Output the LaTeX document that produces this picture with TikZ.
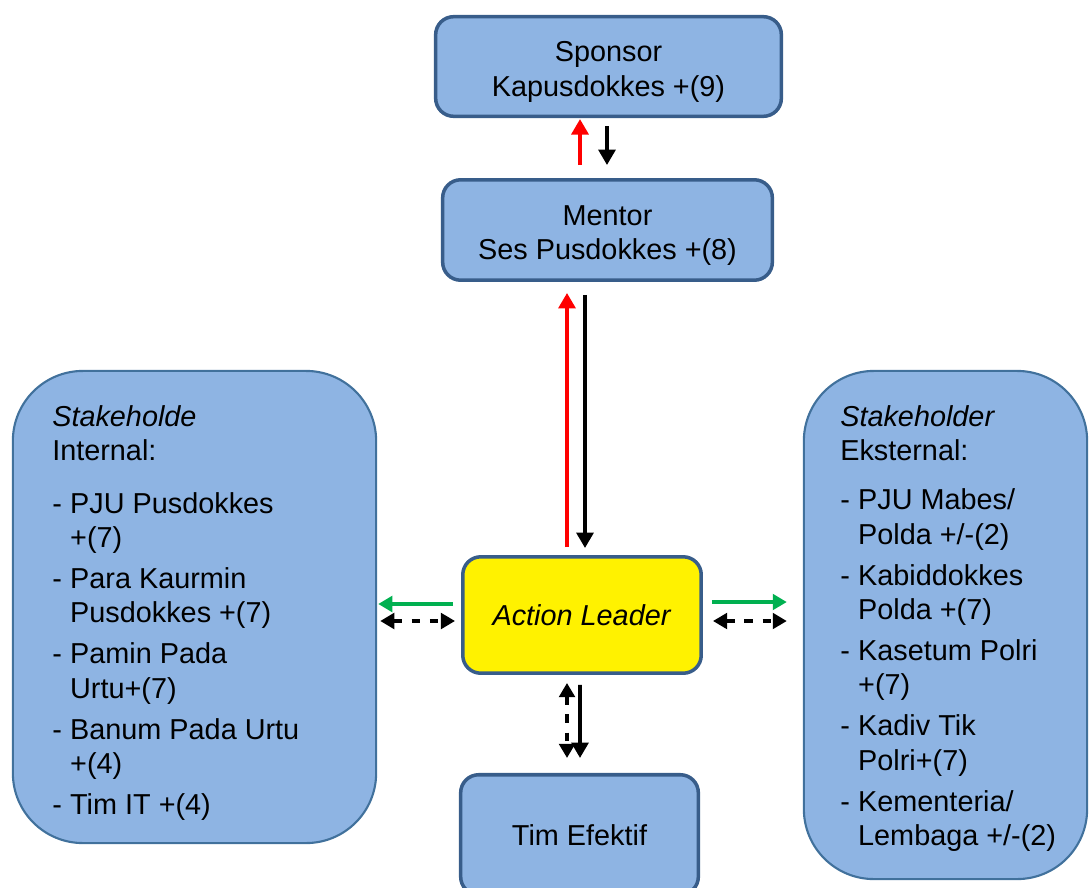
\documentclass[tikz,border=0pt]{standalone}
\usepackage{fontspec}
\setmainfont{Liberation Sans}
\usepackage{xcolor}
\usetikzlibrary{
  arrows.meta,
  calc
}
\definecolor{boxfill}{RGB}{142,180,227}
\definecolor{boxline}{RGB}{56,93,138}
\definecolor{stkline}{RGB}{65,113,156}
\definecolor{arrgreen}{RGB}{0,176,80}
\newcommand{\dashitem}{-\kern5.9pt}
\newcommand{\toplift}{\rule{0pt}{22pt}}

\begin{document}
\begin{tikzpicture}[
    x=0.025cm, y=-0.025cm,
    font=\fontsize{20.5}{24.5}\selectfont,
    every node/.style = {align=center, inner sep=0pt},
    blockbox/.style = {shape=rectangle, rounded corners=0.45cm,
      draw=boxline, line width=2.5pt, fill=boxfill},
    stkbox/.style = {shape=rectangle, rounded corners=1.75cm,
      draw=stkline, line width=1.5pt, fill=boxfill},
    redarr/.style = {red, line width=2.6pt, -{Triangle[width=12pt,length=11pt]}},
    blackarr/.style = {black, line width=2.6pt, -{Triangle[width=12pt,length=11pt]}},
    greenarr/.style = {arrgreen, line width=2.6pt, -{Triangle[width=11pt,length=10pt]}},
    dasharr/.style = {black, line width=2.6pt, dash pattern=on 6pt off 7pt,
      {Triangle[width=11pt,length=10pt]}-{Triangle[width=11pt,length=10pt]}}]
    \useasboundingbox (0,0) rectangle (1090,887);

    % main chain
    \node[blockbox, minimum width=8.64cm, minimum height=2.49cm] (spons)
      at (608.5,66.5) {\toplift Sponsor\\Kapusdokkes +(9)};
    \node[blockbox, minimum width=8.24cm, minimum height=2.51cm] (ment)
      at (607.5,230) {\toplift Mentor\\Ses Pusdokkes +(8)};
    \node[blockbox, fill=yellow, minimum width=5.96cm, minimum height=2.91cm] (al)
      at (582,615) {\textit{Action Leader}};
    \node[blockbox, minimum width=5.94cm, minimum height=3cm] (team)
      at (579.5,834.75) {Tim Efektif};

    % stakeholders
    \node[stkbox, minimum width=9.08cm, minimum height=11.8cm] (intl)
      at (194.5,607) {};
    \node[anchor=north west] (intltxt) at (52,402) {%
      \begin{tabular}{@{}l@{}l}
        \multicolumn{2}{@{}l}{\textit{Stakeholde}}\\
        \multicolumn{2}{@{}l}{Internal:}\\[12.7pt]
        \dashitem & PJU Pusdokkes\\ & +(7)\\[4.6pt]
        \dashitem & Para Kaurmin\\ & Pusdokkes +(7)\\[4.6pt]
        \dashitem & Pamin Pada\\ & Urtu+(7)\\[4.6pt]
        \dashitem & Banum Pada Urtu\\ & +(4)\\[4.6pt]
        \dashitem & Tim IT +(4)
      \end{tabular}};
    \node[stkbox, minimum width=7.08cm, minimum height=12.7cm] (ekst)
      at (945.5,625) {};
    \node[anchor=north west] (eksttxt) at (840,402) {%
      \begin{tabular}{@{}l@{}l}
        \multicolumn{2}{@{}l}{\textit{Stakeholder}}\\
        \multicolumn{2}{@{}l}{Eksternal:}\\[10.3pt]
        \dashitem & PJU Mabes/\\ & Polda +/-(2)\\[4.6pt]
        \dashitem & Kabiddokkes\\ & Polda +(7)\\[4.6pt]
        \dashitem & Kasetum Polri\\ & +(7)\\[4.6pt]
        \dashitem & Kadiv Tik\\ & Polri+(7)\\[4.6pt]
        \dashitem & Kementeria/\\ & Lembaga +/-(2)
      \end{tabular}};

    % arrows
    \draw[redarr] ($(ment.north)+(-27.5,-13)$) -- ($(spons.south)+(-28.5,1)$);
    \draw[blackarr] ($(spons.south)+(-1.5,8)$) -- ($(ment.north)+(-0.5,-13)$);
    \draw[redarr] ($(al.north)+(-15,-8)$) -- ($(ment.south)+(-40.5,11)$);
    \draw[blackarr] ($(ment.south)+(-22.5,13)$) -- ($(al.north)+(3,-7)$);
    \draw[greenarr] ($(al.west)+(-8,-11)$) -- ($(intl.east)+(1,-3)$);
    \draw[dasharr] ($(intl.east)+(3,14)$) -- ($(al.west)+(-6,6)$);
    \draw[greenarr] ($(al.east)+(9,-13)$) -- ($(ekst.west)+(-16,-23)$);
    \draw[dasharr] ($(al.east)+(10,6)$) -- ($(ekst.west)+(-16,-4)$);
    \draw[dasharr] ($(al.south)+(-15,8)$) -- ($(team.north)+(-12.5,-15)$);
    \draw[blackarr] ($(al.south)+(-2,10)$) -- ($(team.north)+(0.5,-15)$);
\end{tikzpicture}
\end{document}
